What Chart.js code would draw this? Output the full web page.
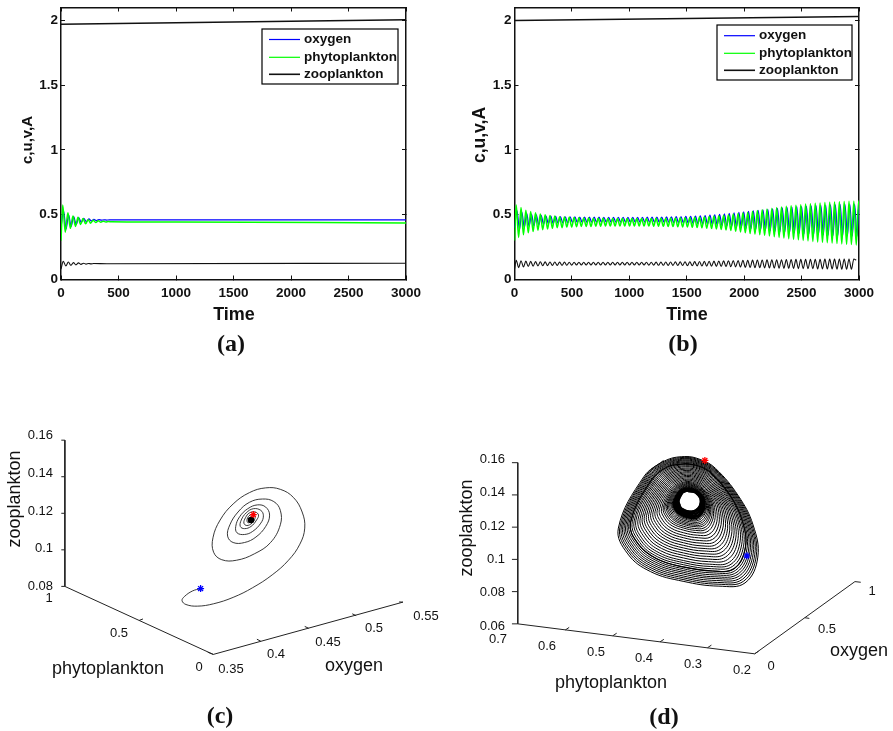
<!DOCTYPE html>
<html>
<head>
<meta charset="utf-8">
<script src="https://cdn.jsdelivr.net/npm/chart.js@4"></script>
<style>
  html, body { margin: 0; padding: 0; background: #fff; overflow: hidden; }
  canvas { position: absolute; }
</style>
</head>
<body>
<canvas id="panelA" width="450" height="370" style="left:0;top:0"></canvas>
<canvas id="panelB" width="443" height="370" style="left:450px;top:0"></canvas>
<canvas id="panelC" width="450" height="321" style="left:0;top:410px"></canvas>
<canvas id="panelD" width="443" height="321" style="left:450px;top:410px"></canvas>
<script>
// tick labels
var timeTicks = [0, 500, 1000, 1500, 2000, 2500, 3000];
var levelTicks = [0, 0.5, 1, 1.5, 2];
var legendNames = ['oxygen', 'phytoplankton', 'zooplankton'];

// panel (a)
var aTopTime = [0, 3000];
var aTop = [1.97, 2.005];
var aOxygenTime = [0,22,44,66,88,110,132,154,176,198,220,242,264,286,308,330,352,374,396,420,3000];
var aOxygen = [.40,.53,.39,.50,.41,.485,.425,.478,.44,.472,.447,.468,.452,.465,.455,.463,.458,.461,.459,.46,.46];
var aPhytoTime = [0,15,37,60,82,104,126,148,170,192,214,236,258,280,302,324,346,368,390,412,440,600,1000,3000];
var aPhyto = [.30,.575,.365,.515,.395,.49,.41,.48,.425,.47,.43,.462,.435,.457,.44,.453,.442,.45,.444,.447,.445,.444,.443,.437];
var aZooTime = [0,20,42,64,86,108,130,152,174,196,218,240,262,284,400,3000];
var aZoo = [.08,.14,.105,.135,.11,.13,.113,.128,.117,.126,.119,.124,.121,.123,.122,.126];

// panel (b)
var bTopTime = [0, 3000];
var bTop = [2.0, 2.03];
var bTime = [0,15,36,57,78,99,120,141,162,183,204,225,246,267,288,309,330,351,372,393,414,435,456,477,498,519,540,561,582,603,624,645,666,687,708,729,750,771,792,813,834,855,876,897,918,939,960,981,1002,1023,1044,1065,1086,1107,1128,1149,1170,1191,1212,1233,1254,1275,1296,1317,1338,1359,1380,1401,1422,1443,1464,1485,1506,1527,1548,1569,1590,1611,1632,1653,1674,1695,1716,1737,1758,1779,1800,1821,1842,1863,1884,1905,1926,1947,1968,1989,2010,2031,2052,2073,2094,2115,2136,2157,2178,2199,2220,2241,2262,2283,2304,2325,2346,2367,2388,2409,2430,2451,2472,2493,2514,2535,2556,2577,2598,2619,2640,2661,2682,2703,2724,2745,2766,2787,2808,2829,2850,2871,2892,2913,2934,2955,2976,2997,3000];
var bOxygenTime = [0,22,43,64,85,106,127,148,169,190,211,232,253,274,295,316,337,358,379,400,421,442,463,484,505,526,547,568,589,610,631,652,673,694,715,736,757,778,799,820,841,862,883,904,925,946,967,988,1009,1030,1051,1072,1093,1114,1135,1156,1177,1198,1219,1240,1261,1282,1303,1324,1345,1366,1387,1408,1429,1450,1471,1492,1513,1534,1555,1576,1597,1618,1639,1660,1681,1702,1723,1744,1765,1786,1807,1828,1849,1870,1891,1912,1933,1954,1975,1996,2017,2038,2059,2080,2101,2122,2143,2164,2185,2206,2227,2248,2269,2290,2311,2332,2353,2374,2395,2416,2437,2458,2479,2500,2521,2542,2563,2584,2605,2626,2647,2668,2689,2710,2731,2752,2773,2794,2815,2836,2857,2878,2899,2920,2941,2962,2983,2999,3000];
var bPhyto = [.30,
  .575,.325,.555,.345,.535,.36,.525,.37,.515,.38,.505,.385,.50,.39,.495,.395,.49,.40,.485,.40,
  .482,.405,.48,.405,.478,.408,.476,.41,.475,.41,.474,.41,.473,.412,.472,.412,.472,.413,.471,.413,
  .471,.413,.47,.414,.47,.414,.47,.414,.47,.414,.47,.414,.47,.413,.471,.413,.471,.412,.472,.412,
  .472,.411,.473,.41,.474,.409,.475,.408,.476,.406,.477,.405,.479,.403,.48,.401,.482,.399,.484,.396,
  .487,.393,.49,.39,.493,.386,.497,.382,.50,.378,.505,.373,.51,.367,.515,.36,.52,.355,.526,.35,
  .532,.345,.538,.34,.544,.335,.55,.33,.555,.325,.56,.32,.565,.315,.57,.31,.574,.306,.578,.302,
  .582,.298,.585,.294,.588,.29,.591,.287,.594,.284,.596,.281,.598,.278,.60,.275,.602,.272,.604,.27,
  .605,.267,.607,.60];
var bOxygen = [.40,
  .53,.385,.52,.40,.51,.41,.505,.415,.50,.42,.495,.425,.49,.43,.49,.432,.487,.435,.485,.437,
  .484,.438,.483,.44,.483,.44,.482,.441,.482,.441,.481,.442,.481,.442,.481,.442,.48,.443,.48,.443,
  .48,.443,.48,.443,.48,.443,.48,.443,.48,.443,.48,.443,.48,.443,.481,.442,.481,.442,.482,.441,
  .482,.441,.483,.44,.484,.439,.485,.438,.486,.436,.487,.435,.488,.433,.49,.431,.492,.429,.494,.427,
  .497,.424,.50,.42,.503,.417,.506,.413,.51,.409,.514,.405,.518,.40,.522,.396,.526,.392,.53,.388,
  .534,.384,.538,.38,.542,.376,.546,.372,.55,.368,.553,.365,.556,.362,.559,.359,.562,.356,.565,.353,
  .567,.35,.569,.348,.571,.346,.573,.344,.575,.342,.576,.34,.577,.339,.578,.338,.579,.337,.58,.336,
  .581,.335,.582,.57];
var bZoo = [.08,
  .148,.092,.145,.097,.142,.10,.14,.103,.138,.105,.137,.106,.136,.107,.135,.108,.135,.109,.134,.11,
  .134,.11,.133,.111,.133,.112,.133,.112,.133,.112,.133,.112,.133,.112,.133,.112,.133,.112,.133,.112,
  .133,.112,.133,.112,.133,.112,.133,.112,.133,.112,.133,.112,.133,.112,.133,.111,.133,.111,.134,.11,
  .134,.11,.135,.109,.135,.109,.136,.108,.136,.108,.137,.107,.137,.106,.138,.105,.139,.104,
  .14,.103,.141,.102,.142,.101,.143,.10,.144,.099,.145,.098,.146,.097,.147,.096,.148,.094,.149,.093,
  .15,.092,.151,.091,.151,.09,.152,.089,.152,.088,.153,.087,.153,.086,.154,.086,.154,.085,.155,.084,
  .155,.084,.155,.083,.156,.083,.156,.082,.156,.082,.157,.081,.157,.081,.157,.08,.158,.08,.158,.08,
  .158,.079,.158,.15];

// panel (c): values as they fall on the picture plane (phytoplankton across, zooplankton up)
var cPhyto = [.0855,.1403,.1952,.2105,.1842,.1075,-.0022,-.1338,-.2654,-.3969,-.5066,-.5833,-.6162,-.5987,-.5395,-.4518,-.3531,-.2434,-.1338,-.0461,.0022,-.0022,-.057,-.1557,-.2763,-.386,-.4518,-.4518,-.4079,-.3312,-.2434,-.1667,-.1118,-.0965,-.1338,-.2105,-.2873,-.3531,-.3794,-.3531,-.2983,-.2325,-.1776,-.1513,-.1601,-.2105,-.2654,-.3202,-.3377,-.3202,-.2697,-.2215,-.1886,-.182,-.2105,-.2544,-.2917,-.3048,-.2829,-.2434,-.2171,-.2062,-.2259,-.261,-.2807,-.2763,-.2478,-.2281,-.2325,-.2544,-.2697,-.261,-.2434,-.2434,-.2588,-.2566,-.2478];
var cZoo = [.0788,.0775,.0744,.0722,.0701,.0692,.0705,.074,.0793,.0863,.0943,.1031,.1119,.1207,.1287,.1331,.1339,.1313,.1251,.1163,.1066,.0987,.0946,.0943,.0978,.104,.1137,.1216,.1264,.1278,.126,.1207,.1137,.1075,.104,.104,.107,.1128,.119,.1234,.1246,.1225,.1181,.1128,.1093,.1084,.1101,.1146,.1186,.1216,.1225,.1202,.1163,.1128,.1116,.1128,.1163,.119,.1207,.1202,.1176,.1146,.1133,.1146,.1172,.119,.119,.1168,.1149,.1154,.1172,.1181,.1172,.1158,.1163,.1168,.1168];
var cBlob = [[-.2544], [.1163]];
var cStart = [[.0855], [.0788]];
var cEnd = [[-.2697], [.1193]];
var cAxisX = [1, 1, 0, -1.278];
var cAxisY = [.16, .08, .0428, .0714];
var cTickX = [1.0241,1,null,1.0241,1,null,1.0241,1,null,1.0241,1,null,1.0241,1,null,.4989,.4737,null,0,.0373,null,-.3202,-.2939,null,-.6426,-.6162,null,-.9627,-.9364,null,-1.278,-1.2522];
var cTickY = [.16,.16,null,.14,.14,null,.12,.12,null,.10,.10,null,.08,.08,null,.0614,.0622,null,.0428,.044,null,.05,.0511,null,.0571,.0581,null,.064,.065,null,.0714,.0715];

// panel (d): one list per direction around the hole, each running from the hole out to the rim, turn by turn
var dPhyto = [
  [.3410,.3411,.3412,.3413,.3414,.3415,.3416,.3417,.3418,.3419,.3421,.3422,.3423,.3425,.3426,.3428,.3430,.3433,.3435,.3438,.3440,.3443,.3445,.3447,.3450,.3452,.3455,.3457,.3460,.3462,.3464,.3466,.3468,.3470,.3471,.3473,.3475,.3477,.3478,.3480],
  [.3330,.3328,.3325,.3322,.3319,.3317,.3314,.3311,.3308,.3305,.3301,.3297,.3294,.3290,.3285,.3280,.3274,.3268,.3261,.3254,.3247,.3241,.3234,.3227,.3221,.3214,.3207,.3200,.3194,.3188,.3182,.3176,.3172,.3167,.3162,.3157,.3152,.3148,.3143,.3138],
  [.3250,.3245,.3239,.3233,.3227,.3221,.3214,.3208,.3202,.3195,.3187,.3179,.3170,.3162,.3151,.3141,.3128,.3113,.3099,.3084,.3069,.3055,.3040,.3025,.3011,.2996,.2981,.2966,.2952,.2939,.2927,.2914,.2903,.2893,.2882,.2872,.2861,.2851,.2840,.2830],
  [.3160,.3150,.3140,.3128,.3115,.3103,.3091,.3079,.3067,.3055,.3038,.3022,.3006,.2990,.2970,.2949,.2925,.2897,.2868,.2840,.2812,.2783,.2755,.2727,.2698,.2670,.2642,.2613,.2585,.2561,.2536,.2512,.2492,.2471,.2451,.2431,.2411,.2390,.2370,.2350],
  [.3170,.3156,.3142,.3125,.3108,.3091,.3074,.3057,.3040,.3023,.3000,.2978,.2955,.2933,.2904,.2876,.2842,.2803,.2763,.2724,.2684,.2645,.2605,.2565,.2526,.2486,.2447,.2407,.2368,.2334,.2300,.2266,.2238,.2209,.2181,.2153,.2125,.2096,.2068,.2040],
  [.3250,.3234,.3217,.3198,.3178,.3158,.3139,.3119,.3099,.3080,.3053,.3027,.3001,.2975,.2942,.2909,.2870,.2824,.2778,.2733,.2687,.2641,.2595,.2549,.2503,.2457,.2412,.2366,.2320,.2281,.2241,.2202,.2169,.2136,.2104,.2071,.2038,.2005,.1973,.1940],
  [.3340,.3326,.3312,.3295,.3278,.3261,.3244,.3227,.3210,.3193,.3170,.3148,.3125,.3103,.3074,.3046,.3012,.2973,.2933,.2894,.2854,.2815,.2775,.2735,.2696,.2656,.2617,.2577,.2538,.2504,.2470,.2436,.2408,.2379,.2351,.2323,.2295,.2266,.2238,.2210],
  [.3430,.3422,.3413,.3403,.3393,.3383,.3373,.3363,.3353,.3343,.3329,.3316,.3303,.3289,.3273,.3256,.3236,.3212,.3189,.3165,.3142,.3118,.3095,.3072,.3048,.3025,.3001,.2978,.2954,.2934,.2914,.2894,.2877,.2860,.2844,.2827,.2810,.2793,.2777,.2760],
  [.3495,.3495,.3496,.3496,.3496,.3496,.3497,.3497,.3497,.3498,.3498,.3498,.3499,.3499,.3500,.3500,.3501,.3502,.3502,.3503,.3504,.3504,.3505,.3506,.3506,.3507,.3508,.3509,.3509,.3510,.3510,.3511,.3512,.3512,.3513,.3513,.3514,.3514,.3515,.3515],
  [.3560,.3568,.3576,.3586,.3595,.3605,.3614,.3624,.3634,.3643,.3656,.3669,.3682,.3694,.3710,.3726,.3746,.3768,.3790,.3813,.3835,.3858,.3880,.3902,.3925,.3947,.3970,.3992,.4014,.4034,.4053,.4072,.4088,.4104,.4120,.4136,.4152,.4168,.4184,.4200],
  [.3584,.3597,.3611,.3628,.3644,.3661,.3677,.3694,.3710,.3727,.3749,.3770,.3792,.3814,.3842,.3869,.3902,.3941,.3979,.4017,.4056,.4094,.4133,.4171,.4209,.4248,.4286,.4324,.4363,.4396,.4429,.4462,.4489,.4516,.4544,.4571,.4599,.4626,.4654,.4681],
  [.3600,.3615,.3632,.3651,.3670,.3690,.3709,.3728,.3747,.3766,.3792,.3818,.3843,.3869,.3901,.3933,.3971,.4016,.4061,.4106,.4150,.4195,.4240,.4285,.4330,.4374,.4419,.4464,.4509,.4547,.4586,.4624,.4656,.4688,.4720,.4752,.4784,.4816,.4848,.4880],
  [.3530,.3540,.3550,.3562,.3575,.3587,.3599,.3611,.3623,.3635,.3652,.3668,.3684,.3700,.3720,.3741,.3765,.3793,.3822,.3850,.3878,.3907,.3935,.3963,.3992,.4020,.4048,.4077,.4105,.4129,.4154,.4178,.4198,.4219,.4239,.4259,.4279,.4300,.4320,.4340],
  [.3480,.3485,.3491,.3498,.3505,.3511,.3518,.3525,.3531,.3538,.3547,.3556,.3565,.3574,.3585,.3596,.3610,.3625,.3641,.3657,.3672,.3688,.3704,.3719,.3735,.3750,.3766,.3782,.3797,.3811,.3824,.3838,.3849,.3860,.3871,.3882,.3893,.3905,.3916,.3927]
];
var dZoo = [
  [.1420,.1423,.1425,.1429,.1432,.1435,.1439,.1442,.1445,.1448,.1453,.1457,.1461,.1466,.1471,.1477,.1483,.1491,.1498,.1506,.1514,.1521,.1529,.1537,.1544,.1552,.1560,.1567,.1575,.1581,.1588,.1594,.1600,.1605,.1611,.1616,.1622,.1627,.1633,.1638],
  [.1418,.1420,.1423,.1426,.1429,.1432,.1435,.1438,.1441,.1444,.1448,.1452,.1456,.1460,.1465,.1470,.1476,.1483,.1490,.1497,.1504,.1511,.1518,.1525,.1532,.1539,.1546,.1553,.1560,.1566,.1572,.1578,.1583,.1588,.1593,.1598,.1603,.1608,.1613,.1618],
  [.1410,.1412,.1414,.1416,.1418,.1421,.1423,.1425,.1428,.1430,.1433,.1436,.1439,.1442,.1446,.1450,.1455,.1460,.1465,.1471,.1476,.1482,.1487,.1492,.1498,.1503,.1509,.1514,.1519,.1524,.1529,.1533,.1537,.1541,.1545,.1549,.1552,.1556,.1560,.1564],
  [.1378,.1378,.1378,.1379,.1379,.1379,.1379,.1380,.1380,.1380,.1380,.1381,.1381,.1381,.1382,.1382,.1383,.1383,.1384,.1384,.1385,.1385,.1386,.1387,.1387,.1388,.1388,.1389,.1389,.1390,.1390,.1391,.1391,.1392,.1392,.1392,.1393,.1393,.1394,.1394],
  [.1334,.1333,.1331,.1329,.1327,.1326,.1324,.1322,.1320,.1318,.1316,.1314,.1311,.1309,.1306,.1303,.1299,.1295,.1291,.1287,.1282,.1278,.1274,.1270,.1266,.1261,.1257,.1253,.1249,.1245,.1242,.1238,.1235,.1232,.1229,.1226,.1223,.1220,.1217,.1214],
  [.1308,.1304,.1301,.1296,.1292,.1287,.1283,.1279,.1274,.1270,.1264,.1258,.1252,.1246,.1239,.1232,.1223,.1212,.1202,.1192,.1182,.1171,.1161,.1151,.1140,.1130,.1120,.1110,.1099,.1090,.1082,.1073,.1065,.1058,.1051,.1043,.1036,.1029,.1021,.1014],
  [.1300,.1295,.1289,.1282,.1275,.1269,.1262,.1255,.1249,.1242,.1233,.1224,.1215,.1206,.1195,.1184,.1171,.1155,.1139,.1124,.1108,.1093,.1077,.1061,.1046,.1030,.1015,.0999,.0983,.0970,.0957,.0943,.0932,.0921,.0910,.0899,.0887,.0876,.0865,.0854],
  [.1302,.1296,.1290,.1283,.1276,.1269,.1262,.1255,.1248,.1241,.1232,.1222,.1213,.1204,.1192,.1180,.1166,.1150,.1134,.1117,.1101,.1084,.1068,.1052,.1035,.1019,.1002,.0986,.0970,.0956,.0942,.0928,.0916,.0904,.0892,.0881,.0869,.0857,.0846,.0834],
  [.1310,.1305,.1299,.1292,.1285,.1279,.1272,.1265,.1259,.1252,.1243,.1234,.1225,.1216,.1205,.1194,.1181,.1165,.1149,.1134,.1118,.1103,.1087,.1071,.1056,.1040,.1025,.1009,.0993,.0980,.0967,.0953,.0942,.0931,.0920,.0909,.0897,.0886,.0875,.0864],
  [.1324,.1319,.1314,.1308,.1302,.1296,.1290,.1284,.1278,.1272,.1264,.1256,.1248,.1240,.1230,.1220,.1208,.1194,.1180,.1166,.1152,.1138,.1124,.1110,.1096,.1082,.1068,.1054,.1040,.1028,.1016,.1004,.0994,.0984,.0974,.0964,.0954,.0944,.0934,.0924],
  [.1342,.1338,.1334,.1330,.1325,.1320,.1316,.1311,.1307,.1302,.1296,.1290,.1283,.1277,.1270,.1262,.1253,.1242,.1231,.1220,.1210,.1199,.1188,.1177,.1166,.1156,.1145,.1134,.1123,.1114,.1105,.1096,.1088,.1080,.1072,.1065,.1057,.1049,.1042,.1034],
  [.1364,.1362,.1360,.1357,.1355,.1352,.1350,.1347,.1344,.1342,.1338,.1335,.1332,.1328,.1324,.1320,.1315,.1309,.1303,.1297,.1291,.1285,.1279,.1273,.1267,.1261,.1255,.1249,.1243,.1238,.1233,.1228,.1224,.1219,.1215,.1211,.1207,.1202,.1198,.1194],
  [.1408,.1409,.1411,.1412,.1414,.1415,.1417,.1419,.1420,.1422,.1424,.1426,.1428,.1430,.1433,.1436,.1439,.1442,.1446,.1450,.1454,.1457,.1461,.1465,.1468,.1472,.1476,.1480,.1483,.1486,.1490,.1493,.1495,.1498,.1501,.1503,.1506,.1509,.1511,.1514],
  [.1418,.1420,.1423,.1426,.1429,.1432,.1435,.1438,.1441,.1443,.1447,.1451,.1455,.1459,.1464,.1469,.1475,.1482,.1489,.1495,.1502,.1509,.1516,.1523,.1530,.1537,.1543,.1550,.1557,.1563,.1569,.1575,.1580,.1585,.1590,.1594,.1599,.1604,.1609,.1614]
];
var dStart = [[.217], [.1022]];
var dEnd = [[.3056], [.1614]];
var dAxisX = [.7, .7, .2006, -.0107];
var dAxisY = [.16, .06, .0414, .0862];
var dTickX = [.7123,.7,null,.7123,.7,null,.7123,.7,null,.7123,.7,null,.7123,.7,null,.7123,.7,null,.5998,.5916,null,.4997,.4915,null,.4002,.392,null,.3,.2918,null,.2006,.1924,null,.095,.0854,null,-.0107,-.023];
var dTickY = [.16,.16,null,.14,.14,null,.12,.12,null,.10,.10,null,.08,.08,null,.06,.06,null,.0562,.0578,null,.0526,.0542,null,.0488,.0504,null,.0452,.0468,null,.0414,.043,null,.0638,.0634,null,.0862,.0858];

var sans = '13px "Liberation Sans"';
var sansBig = '18px "Liberation Sans"';
var serifBold = 'bold 24px "Liberation Serif"';
var blue = '#0000ff', green = '#00ff00', dark = '#111111';

function pts(xs, ys) {
  return xs.map(function (x, i) { return { x: x, y: ys[i] }; });
}

// draws the captions, the 3d tick labels and the legend box, given in page pixels
function textPlugin(ox, oy, items, legend) {
  return {
    id: 'panelText',
    afterDraw: function (chart) {
      var ctx = chart.ctx;
      ctx.save();
      ctx.translate(-ox, -oy);
      if (legend) {
        ctx.strokeStyle = '#000';
        ctx.lineWidth = 1.2;
        ctx.strokeRect(legend.x, legend.y, legend.w, legend.h);
        [blue, green, dark].forEach(function (c, i) {
          ctx.strokeStyle = c;
          ctx.lineWidth = i == 2 ? 1.6 : 1.2;
          ctx.beginPath();
          ctx.moveTo(legend.x + 7, legend.rows[i]);
          ctx.lineTo(legend.x + 38, legend.rows[i]);
          ctx.stroke();
          ctx.font = 'bold 13.5px "Liberation Sans"';
          ctx.fillStyle = '#111';
          ctx.textAlign = 'left';
          ctx.textBaseline = 'middle';
          ctx.fillText(legendNames[i], legend.x + 42, legend.rows[i]);
        });
      }
      items.forEach(function (t) {
        ctx.save();
        ctx.translate(t.x, t.y);
        if (t.rot) ctx.rotate(-Math.PI / 2);
        ctx.font = t.font;
        ctx.fillStyle = '#111';
        ctx.textAlign = t.align || 'center';
        ctx.textBaseline = 'middle';
        ctx.fillText(t.text, 0, 0);
        ctx.restore();
      });
      ctx.restore();
    }
  };
}

function timeChart(id, ox, box, datasets, items, legend) {
  // pins each axis box, and drops the room chart.js keeps for half a tick label
  function fixed(size) {
    return function (s) {
      if (s.isHorizontal()) s.height = size; else s.width = size;
      s.paddingTop = s.paddingBottom = s.paddingLeft = s.paddingRight = 0;
    };
  }
  var grid = { drawOnChartArea: false, tickLength: -4, color: '#111', lineWidth: 1 };
  var border = { color: '#111', width: 1.5 };
  var x = { type: 'linear', min: 0, max: 3000, border: border, grid: grid };
  var y = { type: 'linear', min: 0, max: 2.1, border: border, grid: grid };
  var setX = function (s) { s.ticks = timeTicks.map(function (v) { return { value: v }; }); };
  var setY = function (s) { s.ticks = levelTicks.map(function (v) { return { value: v }; }); };
  var tickFont = { family: 'Liberation Sans', size: 13.5, weight: 'bold' };
  var fmt = function (v) { return String(v); };
  return new Chart(document.getElementById(id), {
    type: 'scatter',
    data: { datasets: datasets },
    options: {
      responsive: false,
      animation: false,
      layout: { autoPadding: false, padding: { left: 0, right: box.right, top: box.top, bottom: 0 } },
      plugins: { legend: { display: false }, tooltip: { enabled: false } },
      scales: {
        x: Object.assign({}, x, { position: 'bottom', afterBuildTicks: setX, afterFit: fixed(box.bottom),
          ticks: { font: tickFont, color: '#111', padding: 10, maxRotation: 0, autoSkip: false, callback: fmt } }),
        x2: Object.assign({}, x, { position: 'top', afterBuildTicks: setX, afterFit: fixed(0), ticks: { display: false } }),
        y: Object.assign({}, y, { position: 'left', afterBuildTicks: setY, afterFit: fixed(box.left),
          ticks: { font: tickFont, color: '#111', padding: 7, autoSkip: false, callback: fmt } }),
        y2: Object.assign({}, y, { position: 'right', afterBuildTicks: setY, afterFit: fixed(0), ticks: { display: false } })
      }
    },
    plugins: [textPlugin(ox, 0, items, legend)]
  });
}

function line(data, color, width, order, mono) {
  return {
    data: data, showLine: true, borderColor: color, backgroundColor: color, borderWidth: width,
    pointRadius: 0, order: order, cubicInterpolationMode: mono ? 'monotone' : 'default'
  };
}

function marker(xs, ys, color, style, r, order) {
  return {
    data: pts(xs, ys), showLine: false, pointStyle: style, pointRadius: r, borderWidth: 1.3,
    borderColor: color, backgroundColor: color, order: order
  };
}

timeChart('panelA', 0, { left: 61, right: 44, top: 7.5, bottom: 90.5 }, [
  line(pts(aTopTime, aTop), dark, 1.5, 1),
  line(pts(aZooTime, aZoo), dark, 1.1, 1, true),
  line(pts(aPhytoTime, aPhyto), green, 1.5, 2, true),
  line(pts(aOxygenTime, aOxygen), blue, 1.2, 3, true)
], [
  { text: 'c,u,v,A', x: 28, y: 140, rot: true, font: 'bold 15px "Liberation Sans"' },
  { text: 'Time', x: 234, y: 315, font: 'bold 18px "Liberation Sans"' },
  { text: '(a)', x: 231, y: 345, font: serifBold }
], { x: 262, y: 29, w: 136, h: 55, rows: [39.5, 57.3, 74.3] });

timeChart('panelB', 450, { left: 64.5, right: 34, top: 7.5, bottom: 90.5 }, [
  line(pts(bTopTime, bTop), dark, 1.5, 1),
  line(pts(bTime, bZoo), dark, 1.1, 1, true),
  line(pts(bTime, bPhyto), green, 1.5, 2, true),
  line(pts(bOxygenTime, bOxygen), blue, 1.2, 3, true)
], [
  { text: 'c,u,v,A', x: 480, y: 135, rot: true, font: 'bold 17.5px "Liberation Sans"' },
  { text: 'Time', x: 687, y: 315, font: 'bold 18px "Liberation Sans"' },
  { text: '(b)', x: 683, y: 345, font: serifBold }
], { x: 717, y: 25, w: 135, h: 55, rows: [35.7, 53.3, 70.3] });

function planeChart(id, ox, oy, range, datasets, items) {
  return new Chart(document.getElementById(id), {
    type: 'scatter',
    data: { datasets: datasets },
    options: {
      responsive: false,
      animation: false,
      layout: { padding: 0 },
      plugins: { legend: { display: false }, tooltip: { enabled: false } },
      scales: {
        x: { type: 'linear', display: false, reverse: true, min: range[0], max: range[1] },
        y: { type: 'linear', display: false, min: range[2], max: range[3] }
      }
    },
    plugins: [textPlugin(ox, oy, items)]
  });
}

var cSpiral = line(pts(cPhyto, cZoo), '#222', 0.9, 3);
cSpiral.tension = 0.4;
planeChart('panelC', 0, 410, [-1.5592, 1.4013, .0038, .1736], [
  marker(cStart[0], cStart[1], blue, 'star', 3.5, 1),
  marker(cEnd[0], cEnd[1], '#ff0000', 'star', 3.5, 1),
  marker(cBlob[0], cBlob[1], '#000', 'circle', 2.6, 2),
  cSpiral,
  line(pts(cAxisX, cAxisY), '#222', 1, 4),
  line(pts(cTickX, cTickY), '#222', 1, 4)
], [
  { text: '0.16', x: 53, y: 435, align: 'right', font: sans },
  { text: '0.14', x: 53, y: 473, align: 'right', font: sans },
  { text: '0.12', x: 53, y: 511, align: 'right', font: sans },
  { text: '0.1', x: 53, y: 548, align: 'right', font: sans },
  { text: '0.08', x: 53, y: 586, align: 'right', font: sans },
  { text: '1', x: 49, y: 598, font: sans },
  { text: '0.5', x: 119, y: 633, font: sans },
  { text: '0', x: 199, y: 667, font: sans },
  { text: '0.35', x: 231, y: 669, font: sans },
  { text: '0.4', x: 276, y: 654, font: sans },
  { text: '0.45', x: 328, y: 642, font: sans },
  { text: '0.5', x: 374, y: 628, font: sans },
  { text: '0.55', x: 426, y: 616, font: sans },
  { text: 'phytoplankton', x: 108, y: 669, font: sansBig },
  { text: 'oxygen', x: 354, y: 666, font: sansBig },
  { text: 'zooplankton', x: 15, y: 499, rot: true, font: sansBig },
  { text: '(c)', x: 220, y: 717, font: serifBold }
]);

// spiral of panel (d), walked turn by turn round the listed directions
var innerTurns = 8;
var dX = [], dY = [], dInnerX = [], dInnerY = [];
dPhyto[0].forEach(function (_, turn) {
  dPhyto.forEach(function (dir, k) {
    dX.push(dir[turn]);
    dY.push(dZoo[k][turn]);
    if (turn < innerTurns) {
      dInnerX.push(dir[turn]);
      dInnerY.push(dZoo[k][turn]);
    }
  });
});
var darkTurn = 31;
var darkX = dPhyto.map(function (dir) { return dir[darkTurn]; });
var darkY = dZoo.map(function (dir) { return dir[darkTurn]; });
darkX.push(darkX[0]);
darkY.push(darkY[0]);

var dSpiral = line(pts(dX, dY), '#000', 1, 3);
dSpiral.tension = 0.4;
var dInner = line(pts(dInnerX, dInnerY), '#000', 1.3, 3);
dInner.tension = 0.4;
var dDark = line(pts(darkX, darkY), '#000', 1.2, 2);
dDark.tension = 0.4;
planeChart('panelD', 450, 410, [-.0798, .8317, -.0032, .1894], [
  marker(dStart[0], dStart[1], blue, 'star', 3.5, 1),
  marker(dEnd[0], dEnd[1], '#ff0000', 'star', 3.5, 1),
  dDark,
  dInner,
  dSpiral,
  line(pts(dAxisX, dAxisY), '#222', 1, 4),
  line(pts(dTickX, dTickY), '#222', 1, 4)
], [
  { text: '0.16', x: 505, y: 459, align: 'right', font: sans },
  { text: '0.14', x: 505, y: 492, align: 'right', font: sans },
  { text: '0.12', x: 505, y: 526, align: 'right', font: sans },
  { text: '0.1', x: 505, y: 559, align: 'right', font: sans },
  { text: '0.08', x: 505, y: 592, align: 'right', font: sans },
  { text: '0.06', x: 505, y: 626, align: 'right', font: sans },
  { text: '0.7', x: 498, y: 639, font: sans },
  { text: '0.6', x: 547, y: 646, font: sans },
  { text: '0.5', x: 596, y: 652, font: sans },
  { text: '0.4', x: 644, y: 658, font: sans },
  { text: '0.3', x: 693, y: 664, font: sans },
  { text: '0.2', x: 742, y: 670, font: sans },
  { text: '0', x: 771, y: 666, font: sans },
  { text: '0.5', x: 827, y: 629, font: sans },
  { text: '1', x: 872, y: 591, font: sans },
  { text: 'phytoplankton', x: 611, y: 683, font: sansBig },
  { text: 'oxygen', x: 859, y: 651, font: sansBig },
  { text: 'zooplankton', x: 467, y: 528, rot: true, font: sansBig },
  { text: '(d)', x: 664, y: 718, font: serifBold }
]);
</script>
</body>
</html>
